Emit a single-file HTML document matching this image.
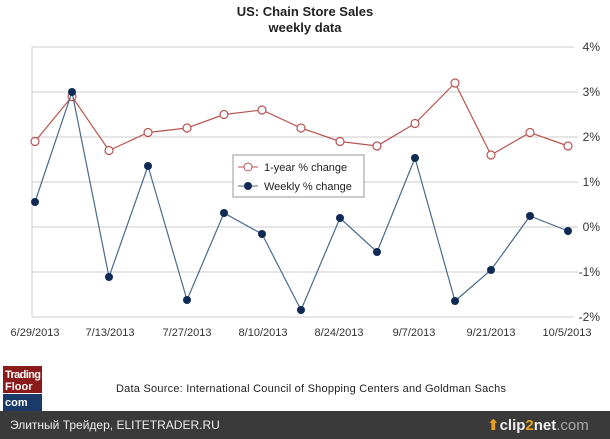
<!DOCTYPE html><html><head><style>
body{margin:0;width:610px;height:439px;background:#fff;overflow:hidden;font-family:"Liberation Sans","DejaVu Sans",sans-serif;position:relative}
</style></head><body>
<svg width="610" height="411" style="position:absolute;left:0;top:0" font-family="Liberation Sans, sans-serif">
<text x="305" y="16" text-anchor="middle" font-size="13" font-weight="bold" fill="#222">US: Chain Store Sales</text>
<text x="305" y="32" text-anchor="middle" font-size="13" font-weight="bold" fill="#222">weekly data</text>
<g stroke="#ccc" stroke-width="1">
<line x1="32" y1="47" x2="574" y2="47"/><line x1="32" y1="92" x2="578" y2="92"/><line x1="32" y1="137" x2="578" y2="137"/><line x1="32" y1="182" x2="578" y2="182"/><line x1="32" y1="227" x2="578" y2="227"/><line x1="32" y1="272" x2="578" y2="272"/><line x1="32" y1="317" x2="574" y2="317"/>
<line x1="32" y1="47" x2="32" y2="317"/>
</g>
<g font-size="12" fill="#333" text-anchor="end">
<text x="600" y="51">4%</text><text x="600" y="96">3%</text><text x="600" y="141">2%</text><text x="600" y="186">1%</text><text x="600" y="231">0%</text><text x="600" y="276">-1%</text><text x="600" y="321">-2%</text>
</g>
<g font-size="11" fill="#333" text-anchor="middle">
<text x="35" y="336">6/29/2013</text><text x="110" y="336">7/13/2013</text><text x="187" y="336">7/27/2013</text><text x="263" y="336">8/10/2013</text><text x="339" y="336">8/24/2013</text><text x="414" y="336">9/7/2013</text><text x="491" y="336">9/21/2013</text><text x="567" y="336">10/5/2013</text>
</g>
<polyline fill="none" stroke="#b85450" stroke-width="1.2" points="35,141.5 72,96.5 109,150.5 148,132.5 187,128 224,114.5 262,110 301,128 340,141.5 377,146 415,123.5 455,83 491,155 530,132.5 568,146"/>
<g fill="#fff" stroke="#b85450" stroke-width="1.2">
<circle cx="35" cy="141.5" r="4"/><circle cx="72" cy="96.5" r="4"/><circle cx="109" cy="150.5" r="4"/><circle cx="148" cy="132.5" r="4"/><circle cx="187" cy="128" r="4"/><circle cx="224" cy="114.5" r="4"/><circle cx="262" cy="110" r="4"/><circle cx="301" cy="128" r="4"/><circle cx="340" cy="141.5" r="4"/><circle cx="377" cy="146" r="4"/><circle cx="415" cy="123.5" r="4"/><circle cx="455" cy="83" r="4"/><circle cx="491" cy="155" r="4"/><circle cx="530" cy="132.5" r="4"/><circle cx="568" cy="146" r="4"/>
</g>
<polyline fill="none" stroke="#4a6a8a" stroke-width="1.2" points="35,202 72,92 109,277 148,166 187,300 224,213 262,234 301,310 340,218 377,252 415,158 455,301 491,270 530,216 568,231"/>
<g fill="#0f2a55">
<circle cx="35" cy="202" r="4"/><circle cx="72" cy="92" r="4"/><circle cx="109" cy="277" r="4"/><circle cx="148" cy="166" r="4"/><circle cx="187" cy="300" r="4"/><circle cx="224" cy="213" r="4"/><circle cx="262" cy="234" r="4"/><circle cx="301" cy="310" r="4"/><circle cx="340" cy="218" r="4"/><circle cx="377" cy="252" r="4"/><circle cx="415" cy="158" r="4"/><circle cx="455" cy="301" r="4"/><circle cx="491" cy="270" r="4"/><circle cx="530" cy="216" r="4"/><circle cx="568" cy="231" r="4"/>
</g>
<rect x="233" y="155" width="131" height="42" fill="#fff" stroke="#999"/>
<line x1="238" y1="167" x2="258" y2="167" stroke="#b85450"/><circle cx="248" cy="167" r="4" fill="#fff" stroke="#b85450"/>
<text x="264" y="171" font-size="11" fill="#222">1-year % change</text>
<line x1="238" y1="186" x2="258" y2="186" stroke="#4a6a8a"/><circle cx="248" cy="186" r="4" fill="#0f2a55"/>
<text x="264" y="190" font-size="11" fill="#222">Weekly % change</text>
<rect x="3" y="366" width="39" height="27" fill="#8b1a1a"/>
<rect x="3" y="394" width="39" height="17" fill="#1a3a6a"/>
<text x="5" y="378" font-size="11" font-weight="bold" fill="#fff" textLength="36">Trading</text>
<text x="5" y="390" font-size="11" font-weight="bold" fill="#fff">Floor</text>
<text x="5" y="406" font-size="11" font-weight="bold" fill="#fff">com</text>
<text x="116" y="392" font-size="11" fill="#222" textLength="390">Data Source: International Council of Shopping Centers and Goldman Sachs</text>
</svg>
<div style="position:absolute;left:0;top:411px;width:610px;height:28px;background:#3a3a3a"></div>
<div style="position:absolute;left:10px;top:418px;color:#eee;font-size:12px">Элитный Трейдер, ELITETRADER.RU</div>
<div style="position:absolute;left:487px;top:416px;color:#eee;font-size:15px;font-weight:bold"><span style="color:#e8a020">⬆</span>clip<span style="color:#e8a020">2</span>net<span style="color:#aaa;font-weight:normal">.com</span></div>
</body></html>
